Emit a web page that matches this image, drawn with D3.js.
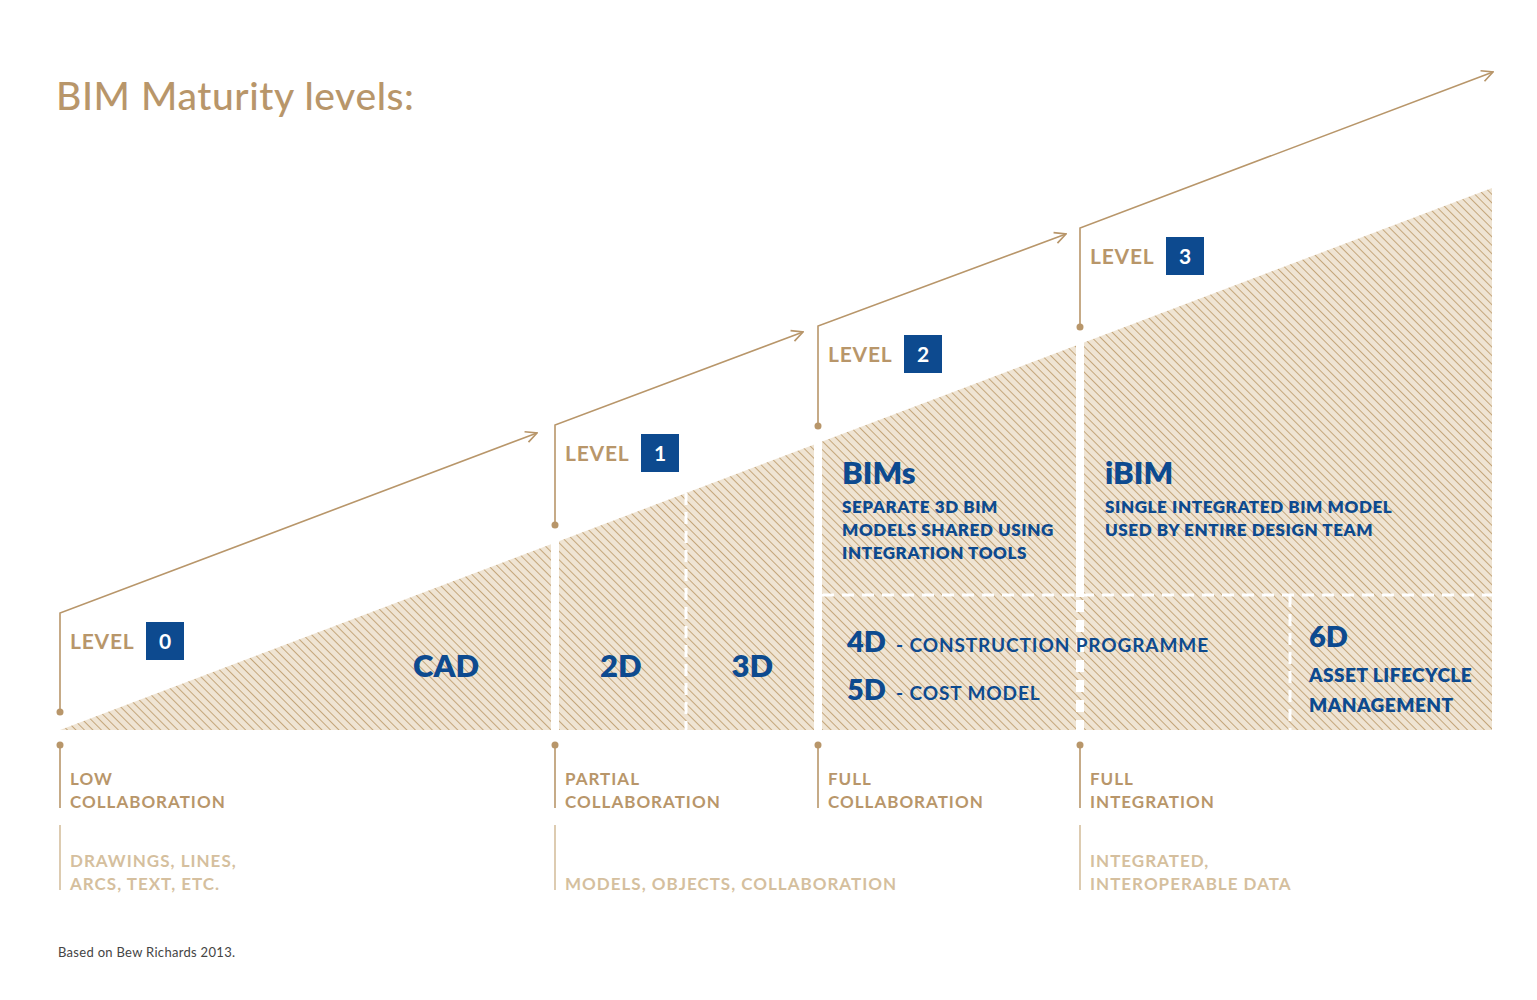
<!DOCTYPE html>
<html><head><meta charset="utf-8">
<script src="https://d3js.org/d3.v7.min.js"></script>
<style>
body{margin:0;background:#fff;}
text{font-family:Lato,"Open Sans",sans-serif;}
</style></head>
<body>
<svg id="chart" width="1537" height="1000"></svg>
<script>
// data
const levels = ["0", "1", "2", "3"];
const collab1 = ["LOW", "PARTIAL", "FULL", "FULL"];
const collab2 = ["COLLABORATION", "COLLABORATION", "COLLABORATION", "INTEGRATION"];
const dataNotes = [["DRAWINGS, LINES,", "ARCS, TEXT, ETC."], ["", "MODELS, OBJECTS, COLLABORATION"], null, ["INTEGRATED,", "INTEROPERABLE DATA"]];
const bigLabels = [{t:"CAD", u:0.78}, {t:"2D", u:1.25}, {t:"3D", u:1.75}];

const gold = "#b8966a", lightGold = "#d5bf9e", blue = "#0d4a8f";
const svg = d3.select("#chart");
const x = d3.scaleLinear().domain([0,1,2,3,4]).range([60,555,818,1080,1492]);
// maturity (triangle height) as a function of x
const h = d3.scaleLinear().domain([60,1492]).range([730,188]);
const base = 730;

const defs = svg.append("defs");
const pat = defs.append("pattern").attr("id","hatch").attr("patternUnits","userSpaceOnUse")
  .attr("width",6).attr("height",6).attr("patternTransform","rotate(45)");
pat.append("rect").attr("width",6).attr("height",6).attr("fill","#efe4d3");
pat.append("line").attr("x1",0).attr("y1",0).attr("x2",6).attr("y2",0).attr("stroke","#c4a67b").attr("stroke-width",2);
defs.append("marker").attr("id","arr").attr("viewBox","0 0 10 10").attr("refX",9).attr("refY",5)
  .attr("markerWidth",14).attr("markerHeight",14).attr("markerUnits","userSpaceOnUse").attr("orient","auto")
  .append("path").attr("d","M1,1 L9,5 L1,9").attr("fill","none").attr("stroke",gold).attr("stroke-width",1.2);

svg.append("text").attr("x",56).attr("y",110).attr("fill",gold).attr("font-size",39).attr("font-weight",500)
  .attr("letter-spacing",0.6).text("BIM Maturity levels:");

// triangle
svg.append("path").attr("d",`M${x(0)},${base} L${x(4)},${h(x(4))} L${x(4)},${base} Z`).attr("fill","url(#hatch)");
// white separators
[1,2,3].forEach(i=>{
  svg.append("line").attr("x1",x(i)).attr("x2",x(i)).attr("y1",h(x(i))-5).attr("y2",base)
    .attr("stroke","#fff").attr("stroke-width",8);
});
const dash = (x1,y1,x2,y2,w,da)=>svg.append("line").attr("x1",x1).attr("y1",y1).attr("x2",x2).attr("y2",y2)
  .attr("stroke","#fff").attr("stroke-width",w).attr("stroke-dasharray",da);
dash(686,h(686),686,base,3,"12,7");
dash(x(2)+4,595,x(4),595,3,"12,8");
dash(1290,595,1290,base,3,"12,7");
// level 3 separator below the dashed line is itself dashed
svg.append("rect").attr("x",x(3)-4).attr("y",597).attr("width",8).attr("height",base-597).attr("fill","url(#hatch)");
dash(x(3),600,x(3),base,8,"12,8");

// level arrows
const tops = [613,425,326,228];
const starts = [712,525,426,327];
const ends = [[537,433],[803,332],[1066,234],[1493,72]];
levels.forEach((lv,i)=>{
  const x0 = x(i);
  svg.append("circle").attr("cx",x0).attr("cy",starts[i]).attr("r",3.5).attr("fill",gold);
  svg.append("path").attr("d",`M${x0},${starts[i]} L${x0},${tops[i]} L${ends[i][0]},${ends[i][1]}`)
    .attr("fill","none").attr("stroke",gold).attr("stroke-width",1.6).attr("marker-end","url(#arr)");
  const ly = tops[i]+28;
  svg.append("text").attr("x",x0+10).attr("y",ly+8).attr("fill",gold).attr("font-size",21).attr("font-weight",700)
    .attr("letter-spacing",0.8).text("LEVEL");
  svg.append("rect").attr("x",x0+86).attr("y",ly-19).attr("width",38).attr("height",38).attr("fill",blue);
  svg.append("text").attr("x",x0+105).attr("y",ly+8).attr("text-anchor","middle").attr("fill","#fff")
    .attr("font-size",21).attr("font-weight",700).text(lv);

  // bottom labels
  svg.append("circle").attr("cx",x0).attr("cy",745).attr("r",3.5).attr("fill",gold);
  svg.append("line").attr("x1",x0).attr("x2",x0).attr("y1",745).attr("y2",808).attr("stroke",gold).attr("stroke-width",1.6);
  svg.append("text").attr("x",x0+10).attr("y",785).attr("fill",gold).attr("font-size",17).attr("font-weight",700)
    .attr("letter-spacing",1).text(collab1[i]);
  svg.append("text").attr("x",x0+10).attr("y",808).attr("fill",gold).attr("font-size",17).attr("font-weight",700)
    .attr("letter-spacing",1).text(collab2[i]);
  if(dataNotes[i]){
    svg.append("line").attr("x1",x0).attr("x2",x0).attr("y1",825).attr("y2",890).attr("stroke",lightGold).attr("stroke-width",1.6);
    dataNotes[i].forEach((t,j)=>svg.append("text").attr("x",x0+10).attr("y",867+j*23).attr("fill",lightGold)
      .attr("font-size",17).attr("font-weight",700).attr("letter-spacing",1).text(t));
  }
});

// content labels
const bt = (xx,yy,t,fs,ls)=>svg.append("text").attr("x",xx).attr("y",yy).attr("fill",blue).attr("font-size",fs)
  .attr("font-weight",800).attr("letter-spacing",ls||0).text(t);
bigLabels.forEach(d=>svg.append("text").attr("x",x(d.u)).attr("y",677).attr("text-anchor","middle").attr("fill",blue)
  .attr("font-size",31).attr("font-weight",800).text(d.t));
bt(842,484,"BIMs",31);
["SEPARATE 3D BIM","MODELS SHARED USING","INTEGRATION TOOLS"].forEach((t,j)=>bt(842,513+j*23,t,17,0.6));
bt(1105,484,"iBIM",31);
["SINGLE INTEGRATED BIM MODEL","USED BY ENTIRE DESIGN TEAM"].forEach((t,j)=>bt(1105,513+j*23,t,17,0.6));
bt(847,652,"4D",29); svg.append("text").attr("x",896).attr("y",652).attr("fill",blue).attr("font-size",19).attr("font-weight",700).attr("letter-spacing",0.9).text("- CONSTRUCTION PROGRAMME");
bt(847,700,"5D",29); svg.append("text").attr("x",896).attr("y",700).attr("fill",blue).attr("font-size",19).attr("font-weight",700).attr("letter-spacing",0.9).text("- COST MODEL");
bt(1309,647,"6D",29);
bt(1309,682,"ASSET LIFECYCLE",19,0.5);
bt(1309,712,"MANAGEMENT",19,0.5);

svg.append("text").attr("x",58).attr("y",957).attr("fill","#444").attr("font-size",13).attr("letter-spacing",0.3).text("Based on Bew Richards 2013.");
</script>
</body></html>
